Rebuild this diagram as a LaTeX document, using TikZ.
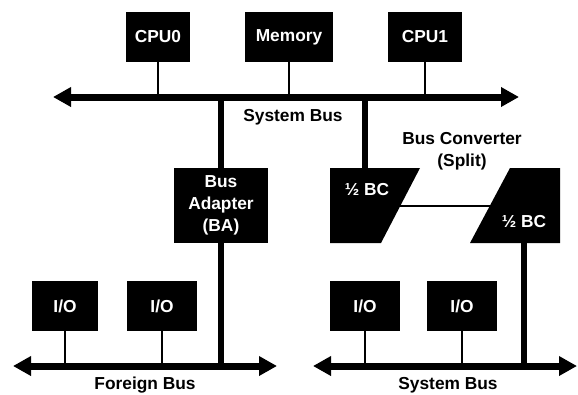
\documentclass[tikz,border=0pt]{standalone}
\usepackage{fontspec}
\setmainfont{Liberation Sans}
\usetikzlibrary{arrows.meta}
\begin{document}
\begin{tikzpicture}[x=0.75pt,y=-0.75pt,
  lbl/.style={font=\fontsize{13}{16.5}\selectfont\bfseries},
  unit/.style={lbl,fill=black,text=white,inner sep=0pt,
    minimum height=37.5pt},
  bus/.style={line width=5.25pt,
    {Triangle[length=13.5pt,width=14pt]}-{Triangle[length=13.5pt,width=14pt]}},
  riser/.style={line width=4.5pt},
  tap/.style={line width=0.9pt}]
\useasboundingbox (0,0) rectangle (578,394);

% processors and memory on the main bus
\node[unit,minimum width=48pt] (cpu0) at (158,37) {CPU0};
\node[unit,minimum width=66pt] (mem)  at (289,37) {Memory};
\node[unit,minimum width=56pt] (cpu1) at (425,37) {CPU1};

% main system bus
\coordinate (sbL) at (53,97);
\coordinate (sbR) at (519,97);
\draw[bus] (sbL) -- (sbR);
\node[lbl] (sblabel) at (293,117) {System Bus};

\foreach \n in {cpu0,mem,cpu1}
  \draw[tap] (\n.south) -- (\n.south |- sbL);

% bus adapter
\node[unit,minimum width=71pt,minimum height=56pt,align=center] (ba) at (221,205.5)
  {Bus\\Adapter\\(BA)};

% foreign bus
\coordinate (fbL) at (13,366);
\coordinate (fbR) at (277,366);
\draw[bus] (fbL) -- (fbR);
\node[lbl] (fblabel) at (145,385) {Foreign Bus};

\draw[riser] (ba.north) -- (ba.north |- sbL);
\draw[riser] (ba.south) -- (ba.south |- fbL);

% I/O units on the foreign bus
\node[unit,minimum width=50pt] (io1) at (65,306) {I/O};
\node[unit,minimum width=52pt] (io2) at (162,306) {I/O};
\draw[tap] (io1.south) -- (io1.south |- fbL);
\draw[tap] (io2.south) -- (io2.south |- fbL);

% split bus converter: two halves
\coordinate (bcA1) at (330,168);
\coordinate (bcA2) at (420,168);
\coordinate (bcA3) at (381,243);
\coordinate (bcA4) at (330,243);
\fill (bcA1) -- (bcA2) -- (bcA3) -- (bcA4) -- cycle;
\coordinate (bcB1) at (510,168);
\coordinate (bcB2) at (560,168);
\coordinate (bcB3) at (560,243);
\coordinate (bcB4) at (470,243);
\fill (bcB1) -- (bcB2) -- (bcB3) -- (bcB4) -- cycle;
\node[lbl,text=white] (bcAtext) at (367,190) {½ BC};
\node[lbl,text=white] (bcBtext) at (524,222) {½ BC};
\coordinate (bcAtop) at (365,168);
\coordinate (bcBbot) at (524,243);
\coordinate (linkA) at (400,206);
\coordinate (linkB) at (490,206);
\draw[tap] (linkA) -- (linkB);
\node[lbl,align=center] (bclabel) at (462,151) {Bus Converter\\(Split)};

% second system bus
\coordinate (s2L) at (313,366);
\coordinate (s2R) at (577,366);
\draw[bus] (s2L) -- (s2R);
\node[lbl] (s2label) at (448,385) {System Bus};

\draw[riser] (bcAtop) -- (bcAtop |- sbL);
\draw[riser] (bcBbot) -- (bcBbot |- s2L);

% I/O units on the second system bus
\node[unit,minimum width=52pt] (io3) at (365,306) {I/O};
\node[unit,minimum width=52pt] (io4) at (462,306) {I/O};
\draw[tap] (io3.south) -- (io3.south |- s2L);
\draw[tap] (io4.south) -- (io4.south |- s2L);
\end{tikzpicture}
\end{document}
